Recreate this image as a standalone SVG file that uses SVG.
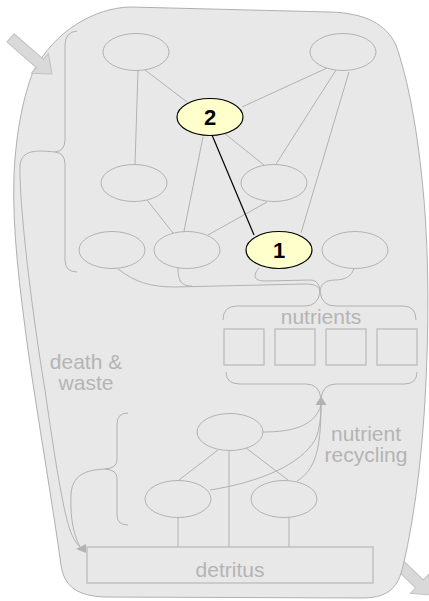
<svg xmlns="http://www.w3.org/2000/svg" width="429" height="601" viewBox="0 0 429 601">
<defs>
<style>
.ln{fill:none;stroke:#b2b2b2;stroke-width:1}
.el{fill:#e8e8e8;stroke:#b2b2b2;stroke-width:1}
.key{fill:#ffffcc;stroke:#000;stroke-width:1.2}
.bx{fill:#e8e8e8;stroke:#b8b8b8;stroke-width:1.2}
.lbl{font-family:"Liberation Sans",Arial,sans-serif;font-size:21px;fill:#b4b4b4;text-anchor:middle}
.num{font-family:"Liberation Sans",Arial,sans-serif;font-size:22px;font-weight:bold;fill:#000;text-anchor:middle}
.arr{fill:#d9d9d9;stroke:#c2c2c2;stroke-width:1}
</style>
<polygon id="barrow" points="0,0 -16,-13 -16,-5.5 -55,-5.5 -55,5.5 -16,5.5 -16,13"/>
</defs>
<rect width="429" height="601" fill="#fff"/>
<g id="output-arrow"><use href="#barrow" class="arr" transform="translate(431,595) rotate(44)"/></g>
<g id="ecosystem">
<path d="M 130,7 L 330,12 C 365,13 386,24 396,45 C 408,80 418,130 424,200 C 429,260 429,330 425,400 C 421,470 412,530 402,570 C 397,588 388,597 365,598 L 105,597 C 78,596 64,587 61,565 C 52,500 38,420 28,350 C 20,290 12,230 14,175 C 16,130 24,95 33,72 C 55,30 95,8 130,7 Z" fill="#e8e8e8" stroke="#b0b0b0" stroke-width="1"/>
</g>
<g id="input-arrow"><use href="#barrow" class="arr" transform="translate(52,74) rotate(41)"/></g>
<g id="connectors">
<line class="ln" x1="145" y1="70" x2="187" y2="102"/>
<line class="ln" x1="138" y1="70" x2="135" y2="164"/>
<line class="ln" x1="242" y1="107" x2="327" y2="68"/>
<line class="ln" x1="336" y1="70" x2="276" y2="164"/>
<line class="ln" x1="349" y1="72" x2="301" y2="233"/>
<line class="ln" x1="224" y1="133" x2="264" y2="165"/>
<line class="ln" x1="203" y1="137" x2="184" y2="231"/>
<line class="ln" x1="147" y1="200" x2="173" y2="233"/>
<line class="ln" x1="267" y1="202" x2="208" y2="235"/>
<line x1="212" y1="135" x2="254" y2="235" stroke="#000" stroke-width="1.2"/>
<path class="ln" d="M 118,269 C 135,282 150,287 175,287 L 305,284 C 316,284 320,287 320,292"/>
<path class="ln" d="M 178,268 C 178,282 182,286 192,286"/>
<path class="ln" d="M 259,268 C 253,275 253,281 265,281 L 310,280 C 316,280 320,284 320,292"/>
<path class="ln" d="M 354,268 C 352,276 345,280 335,280 C 325,280 320,285 320,292"/>
<path class="ln" d="M 77,31 Q 65,32 65,45 L 65,140 Q 65,151 55,152 Q 65,153 65,164 L 65,260 Q 65,272 77,272"/>
<path class="ln" d="M 55,152 C 35,150 22,150 20,165 C 19,200 30,300 45,390 C 55,460 63,510 70,530 C 73,538 76,543 80,547"/>
<path class="ln" d="M 128,413 Q 117,413 117,424 L 117,460 Q 117,468 105,469 Q 117,470 117,478 L 117,515 Q 117,525 128,525"/>
<path class="ln" d="M 105,469 C 85,470 72,475 71,495 C 70,520 74,535 80,547"/>
<polygon points="76,549 86,544 86,553" fill="#b2b2b2"/>
<path class="ln" d="M 223,320 Q 223,306 237,306 L 305,306 Q 318,306 320,292 Q 322,306 335,306 L 403,306 Q 416,306 416,320"/>
<path class="ln" d="M 226,372 Q 226,384 240,384 L 306,384 Q 319,384 321,398 Q 323,384 336,384 L 404,384 Q 417,384 417,372"/>
<path class="ln" d="M 263,432 C 295,432 315,425 321,405"/>
<path class="ln" d="M 210,490 C 260,482 300,465 315,440 C 320,430 321,415 321,405"/>
<path class="ln" d="M 297,481 C 315,470 321,450 321,405"/>
<polygon points="321,396 315.5,405 326.5,405" fill="#b2b2b2"/>
<line class="ln" x1="218" y1="450" x2="179" y2="480"/>
<line class="ln" x1="246" y1="448" x2="288" y2="480"/>
<line class="ln" x1="229" y1="451" x2="229" y2="547"/>
<line class="ln" x1="178" y1="517" x2="178" y2="547"/>
<line class="ln" x1="289" y1="517" x2="289" y2="547"/>
</g>
<g id="sp-top-left"><ellipse class="el" cx="136" cy="52" rx="33" ry="18.5"/></g>
<g id="sp-top-right"><ellipse class="el" cx="343" cy="52" rx="33" ry="18.5"/></g>
<g id="sp-2"><ellipse class="key" cx="210" cy="117" rx="33" ry="18.5"/><text class="num" x="210" y="125">2</text></g>
<g id="sp-mid-left"><ellipse class="el" cx="134" cy="183" rx="33" ry="18.5"/></g>
<g id="sp-mid-right"><ellipse class="el" cx="274" cy="183" rx="33" ry="18.5"/></g>
<g id="sp-bot-1"><ellipse class="el" cx="112" cy="250" rx="33" ry="18.5"/></g>
<g id="sp-bot-2"><ellipse class="el" cx="187" cy="250" rx="33" ry="18.5"/></g>
<g id="sp-1"><ellipse class="key" cx="279" cy="250" rx="33" ry="18.5"/><text class="num" x="279" y="258">1</text></g>
<g id="sp-bot-4"><ellipse class="el" cx="355" cy="250" rx="33" ry="18.5"/></g>
<g id="nutrients">
<text class="lbl" x="321" y="324">nutrients</text>
<rect class="bx" x="224" y="329" width="40" height="36"/>
<rect class="bx" x="275" y="329" width="40" height="36"/>
<rect class="bx" x="326" y="329" width="40" height="36"/>
<rect class="bx" x="377" y="329" width="40" height="36"/>
</g>
<g id="dec-top"><ellipse class="el" cx="230" cy="432" rx="33" ry="18.5"/></g>
<g id="dec-left"><ellipse class="el" cx="178" cy="499" rx="33" ry="18.5"/></g>
<g id="dec-right"><ellipse class="el" cx="284" cy="499" rx="33" ry="18.5"/></g>
<g id="detritus">
<rect class="bx" x="87" y="547" width="286" height="36"/>
<text class="lbl" x="230" y="577">detritus</text>
</g>
<g id="labels">
<text class="lbl" x="86" y="369">death &amp;</text>
<text class="lbl" x="86" y="390">waste</text>
<text class="lbl" x="366" y="441">nutrient</text>
<text class="lbl" x="366" y="462">recycling</text>
</g>
</svg>
